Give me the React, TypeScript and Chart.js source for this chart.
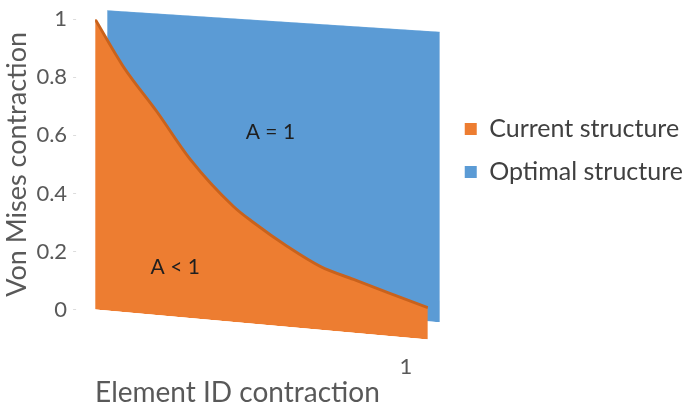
import React, { useEffect, useRef } from "react";
import { Chart, registerables } from "chart.js";

// ---- data ----
const xValues = [0, 0.084, 0.187, 0.286, 0.416, 0.476, 0.578, 0.678, 0.777, 0.88, 1.0];
const currentValues = [1.0, 0.847, 0.699, 0.547, 0.398, 0.349, 0.277, 0.218, 0.184, 0.149, 0.11];
const optimalX = [0, 1];
const optimalValues = [1, 1];
const seriesLabels = ["Current structure", "Optimal structure"];
const yTickLabels = ["0", "0.2", "0.4", "0.6", "0.8", "1"];
const xTickValues = [1];
const xTickLabels = ["1"];
const annotationTexts = ["A = 1", "A < 1"];
const annotationX = [0.527, 0.241];
const annotationY = [0.665, 0.17];

// ---- style ----
const X_AXIS_MAX = 1.057;
const depthStyles = [
  { dx: 0, dy: 0, skew: 0.09 },
  { dx: 12, dy: -9, skew: 0.065 },
];
const FONT = "Lato";

const depthPlugin = {
  id: "depth3d",
  beforeDatasetDraw(chart: any, args: any) {
    const { ctx, chartArea } = chart;
    const s = depthStyles[args.index] || depthStyles[0];
    ctx.save();
    ctx.translate(s.dx, s.dy);
    ctx.transform(1, s.skew, 0, 1, 0, -s.skew * chartArea.left);
  },
  afterDatasetDraw(chart: any) {
    chart.ctx.restore();
  },
  afterDatasetsDraw(chart: any) {
    const { ctx, chartArea, scales } = chart;
    const s = depthStyles[0];
    ctx.save();
    ctx.font = `21px ${FONT}`;
    ctx.fillStyle = "#1f1f1f";
    ctx.textAlign = "center";
    ctx.textBaseline = "middle";
    annotationTexts.forEach((t, i) => {
      const px = scales.x.getPixelForValue(annotationX[i]);
      const py = scales.y.getPixelForValue(annotationY[i]) + s.skew * (px - chartArea.left);
      ctx.fillText(t, px, py);
    });
    ctx.restore();
  },
};

Chart.register(depthPlugin as any);
Chart.register(...registerables);

export default function App() {
  const ref = useRef<HTMLCanvasElement | null>(null);
  useEffect(() => {
    if (!ref.current) return;
    const chart = new Chart(ref.current, {
      type: "line",
      data: {
        datasets: [
          {
            label: seriesLabels[0],
            data: xValues.map((x, i) => ({ x, y: currentValues[i] })),
            backgroundColor: "#ED7D31",
            borderColor: "#C9621C",
            borderWidth: 3,
            fill: "origin",
            pointRadius: 0,
            cubicInterpolationMode: "monotone",
          },
          {
            label: seriesLabels[1],
            data: optimalX.map((x, i) => ({ x, y: optimalValues[i] })),
            backgroundColor: "#5B9BD5",
            borderColor: "#6FA9DC",
            borderWidth: 1,
            fill: "origin",
            pointRadius: 0,
          },
        ],
      },
      options: {
        animation: false,
        responsive: false,
        layout: { padding: { top: 3, left: 1, right: 0, bottom: 0 } },
        scales: {
          x: {
            type: "linear",
            min: 0,
            max: X_AXIS_MAX,
            afterBuildTicks: (scale: any) => {
              scale.ticks = xTickValues.map((v) => ({ value: v }));
            },
            ticks: {
              callback: (_v: any, i: number) => xTickLabels[i],
              padding: 44,
              labelOffset: -22,
              maxRotation: 0,
              autoSkip: false,
              font: { family: FONT, size: 22 },
              color: "#595959",
            },
            grid: { display: false, drawTicks: false },
            border: { display: false },
            title: {
              display: true,
              text: "Element ID contraction",
              align: "start",
              color: "#595959",
              font: { family: FONT, size: 28, lineHeight: 1 },
              padding: { top: -45, bottom: 4 },
            },
          },
          y: {
            min: 0,
            max: 1,
            ticks: {
              stepSize: 0.2,
              callback: (_v: any, i: number) => yTickLabels[i],
              padding: 6,
              font: { family: FONT, size: 22 },
              color: "#595959",
            },
            grid: {
              drawOnChartArea: false,
              drawTicks: true,
              tickLength: 22,
              tickColor: "#dcdcdc",
              tickBorderDash: [3, 100],
            },
            border: { display: false },
            title: {
              display: true,
              text: "Von Mises contraction",
              color: "#595959",
              font: { family: FONT, size: 27, lineHeight: 1.2 },
              padding: { top: 0, bottom: -3 },
            },
          },
        },
        plugins: {
          tooltip: { enabled: false },
          legend: {
            position: "right",
            align: "start",
            maxWidth: 320,
            title: { display: true, text: "", padding: { top: 81, bottom: 0 }, font: { size: 12 } },
            labels: {
              boxWidth: 12,
              boxHeight: 12,
              padding: 18,
              color: "#404040",
              font: { family: FONT, size: 25 },
              generateLabels: (c: any) =>
                (Chart.defaults.plugins.legend.labels as any)
                  .generateLabels(c)
                  .map((l: any) => ({ ...l, lineWidth: 0, strokeStyle: l.fillStyle })),
            },
          },
        },
      } as any,
    });
    return () => chart.destroy();
  }, []);
  return (
    <div style={{ position: "absolute", left: 0, top: 0, width: 693, height: 411, background: "#fff" }}>
      <canvas ref={ref} width={693} height={411} />
    </div>
  );
}
